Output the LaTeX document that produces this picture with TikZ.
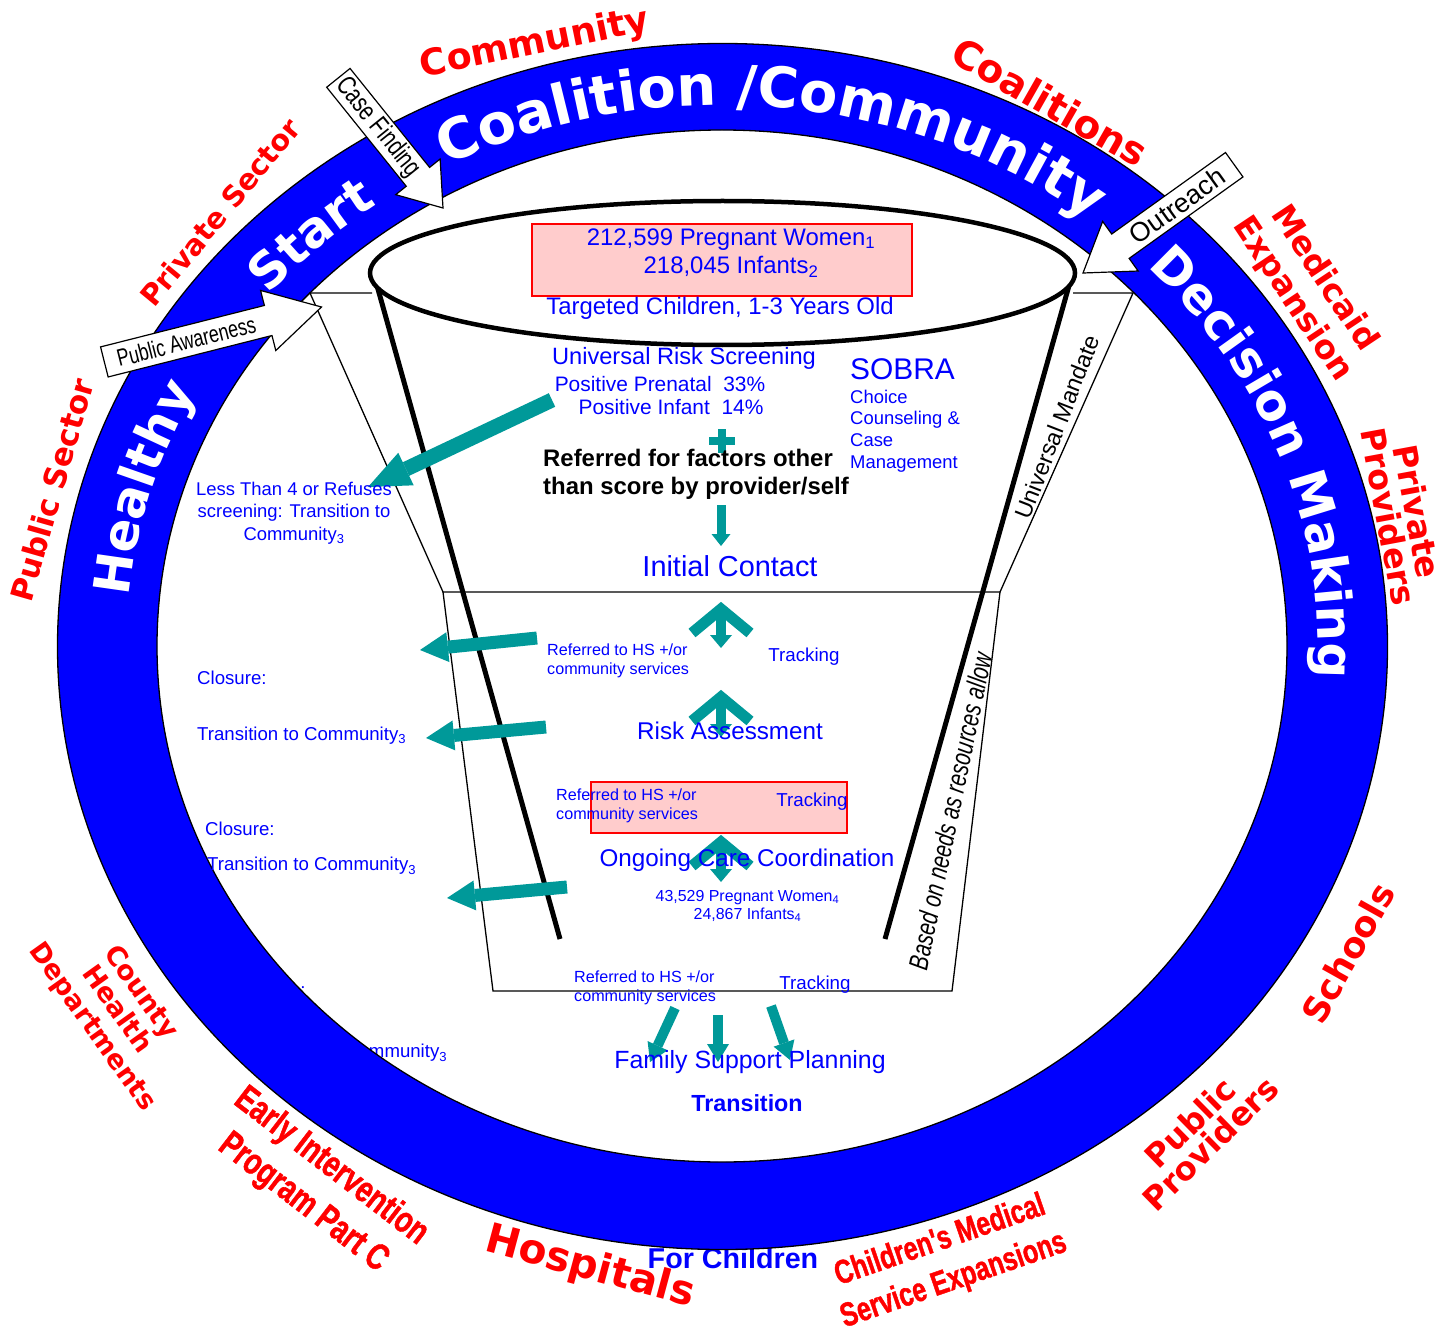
\documentclass[tikz,border=0pt]{standalone}
\usepackage{fontspec}
\setmainfont{Liberation Sans}
\newfontfamily\heavy{DejaVu Sans}
\newfontfamily\narrow[FakeStretch=0.75]{Liberation Sans}
\newfontfamily\narrowbf[FakeStretch=0.75,FakeBold=1.2]{Liberation Sans Bold}
\usetikzlibrary{arrows.meta,decorations.text}
\definecolor{ringblue}{RGB}{0,0,255}
\definecolor{tealc}{RGB}{0,153,153}
\definecolor{boxpink}{RGB}{255,204,204}
\newcommand\fz[2]{\fontsize{#1}{#2}\selectfont}
\tikzstyle{redtag}=[text=red,align=center,inner sep=0pt]
\tikzstyle{bluetxt}=[text=blue,inner sep=0pt]
\tikzstyle{tealarr}=[draw=tealc,line width=13bp,
  -{Triangle[length=28bp,width=30bp,line width=0pt]}]
\tikzstyle{smallarr}=[draw=tealc,line width=10bp,
  -{Triangle[length=18bp,width=22bp,line width=0pt]}]
\tikzstyle{chevron}=[draw=tealc,line width=11bp,line join=miter]
\tikzstyle{blockarr}=[draw=black,fill=white,line width=1.2bp,line join=miter]

\begin{document}
\begin{tikzpicture}[x=1bp,y=-1bp]
  \useasboundingbox (0,0) rectangle (1453,1334);
  \fill[white] (0,0) rectangle (1453,1334);

  % texts that the ring hides in part
  \node[bluetxt,anchor=west,font=\fz{18.7}{22}] (close3) at (236,990) {Closure:};
  \node[bluetxt,anchor=west,font=\fz{18.7}{22}] (trans3) at (238,1053) {Transition to Community\textsubscript{3}};
  \node[bluetxt,font=\bfseries\fz{28.8}{32}] (forkids) at (733,1258) {For Children};

  % the ring
  \fill[ringblue,even odd rule] (722.5,646.5) ellipse [x radius=665,y radius=603]
    (722,646) ellipse [x radius=565,y radius=516];
  \draw[line width=1.3bp] (722.5,646.5) ellipse [x radius=665,y radius=603];
  \draw[line width=1.3bp] (722,646) ellipse [x radius=565,y radius=516];

  \path[decorate,decoration={text along path,text color=white,
      text={|\heavy\bfseries\fz{50}{50}|Healthy}}]
    ([shift={(-174.8:596 and 541)}]722,646) arc[start angle=-174.8,end angle=-140,x radius=596,y radius=541];
  \path[decorate,decoration={text along path,text color=white,
      text={|\heavy\bfseries\fz{50}{50}|Start}}]
    ([shift={(-139.5:596 and 541)}]722,646) arc[start angle=-139.5,end angle=-110,x radius=596,y radius=541];
  \path[decorate,decoration={text along path,text color=white,
      text={|\heavy\bfseries\fz{56}{56}|Coalition /Community}}]
    ([shift={(-117.5:596 and 541)}]722,646) arc[start angle=-117.5,end angle=-35,x radius=596,y radius=541];
  \path[decorate,decoration={text along path,text color=white,
      text={|\heavy\bfseries\fz{50}{50}|Decision Making}}]
    ([shift={(-44.5:596 and 541)}]722,646) arc[start angle=-44.5,end angle=20,x radius=596,y radius=541];

  % partners round the ring
  \node[redtag,rotate=11.6,font=\heavy\bfseries\fz{36.5}{40}] (comm) at (535,44) {Community};
  \node[redtag,rotate=-29.6,font=\heavy\bfseries\fz{39}{42}] (coal) at (1050,102) {Coalitions};
  \node[redtag,rotate=-56.3,font=\heavy\bfseries\fz{33}{38}] (medic) at (1308,289) {Medicaid\\Expansion};
  \node[redtag,rotate=-79.5,font=\heavy\bfseries\fz{33.5}{29}] (privprov) at (1403,514) {Private\\Providers};
  \node[redtag,rotate=60.8,font=\heavy\bfseries\fz{35.5}{38}] (school) at (1348,953) {Schools};
  \node[redtag,rotate=44.5,font=\heavy\bfseries\fz{32.5}{29}] (pubprov) at (1200,1133) {Public\\Providers};
  \node[redtag,rotate=19,font=\narrowbf\fz{33.5}{42}] (cms) at (947,1261) {Children's Medical\\Service Expansions};
  \node[redtag,rotate=-15.1,font=\heavy\bfseries\fz{41}{44}] (hosp) at (590,1268) {Hospitals};
  \node[redtag,rotate=-37.5,font=\narrowbf\fz{37}{46}] (eip) at (317,1185) {Early Intervention\\Program Part C};
  \node[redtag,rotate=-54.5,font=\heavy\bfseries\fz{27}{30}] (chd) at (116,1010) {County\\Health\\Departments};
  \node[redtag,rotate=74,font=\heavy\bfseries\fz{31}{34}] (pubsec) at (52,490) {Public Sector};
  \node[redtag,rotate=50.4,font=\heavy\bfseries\fz{29}{32}] (privsec) at (220,212) {Private Sector};

  % funnel
  \draw[line width=1.3bp] (372,293) -- (310,293) -- (443,592) -- (1000,592) -- (1133,293) -- (1073,293);
  \draw[line width=1.3bp] (443,592) -- (493,991) -- (952,991) -- (1000,592);
  \draw[line width=5bp] (376,282) -- (560,939);
  \draw[line width=5bp] (1070,282) -- (885,939);
  \draw[line width=4.5bp,fill=white] (722.5,273) ellipse [x radius=352.5,y radius=72];
  \node[rotate=68.7,inner sep=0pt,font=\fz{23.5}{26}] (mandate) at (1057,427) {Universal Mandate};
  \node[rotate=78.3,inner sep=0pt,font=\narrow\itshape\fz{27.4}{30}] (needs) at (950,811) {Based on needs as resources allow};

  \draw[red,fill=boxpink,line width=1.5bp] (532,224) rectangle (912,296);
  \draw[red,fill=boxpink,line width=1.5bp] (591,782) rectangle (847,833);

  % teal arrows
  \coordinate (bigA) at (552,400);   \coordinate (bigB) at (368,487);
  \coordinate (out1a) at (537,638);  \coordinate (out1b) at (420,650);
  \coordinate (out2a) at (546,727);  \coordinate (out2b) at (426,738);
  \coordinate (out3a) at (567,887);  \coordinate (out3b) at (447,898);
  \coordinate (dnA) at (721,505);    \coordinate (dnB) at (721,546);
  \coordinate (fsp1a) at (675,1008); \coordinate (fsp1b) at (650,1062);
  \coordinate (fsp2a) at (718,1015); \coordinate (fsp2b) at (718,1062);
  \coordinate (fsp3a) at (771,1006); \coordinate (fsp3b) at (790,1060);

  \draw[tealarr,line width=15bp,-{Triangle[length=42bp,width=36bp,line width=0pt]}] (bigA) -- (bigB);
  \draw[tealarr] (out1a) -- (out1b);
  \draw[tealarr] (out2a) -- (out2b);
  \draw[tealarr] (out3a) -- (out3b);
  \draw[draw=tealc,line width=9bp,-{Triangle[length=12bp,width=19bp,line width=0pt]}] (dnA) -- (dnB);
  \draw[tealc,line width=8bp] (709,441) -- (735,441) (722,429) -- (722,453);
  \draw[smallarr] (fsp1a) -- (fsp1b);
  \draw[smallarr] (fsp2a) -- (fsp2b);
  \draw[smallarr] (fsp3a) -- (fsp3b);

  \foreach \ty/\tb in {609/648, 697/737, 842/882} {
    \draw[chevron] (692,\ty+24) -- (721,\ty) -- (750,\ty+24);
    \draw[draw=tealc,line width=10bp,-{Triangle[length=13bp,width=22bp,line width=0pt]}] (721,\ty) -- (721,\tb);
  }

  % texts in the funnel
  \node[bluetxt,align=center,font=\fz{24}{29}] (counts) at (731,253) {212,599 Pregnant Women\textsubscript{1}\\218,045 Infants\textsubscript{2}};
  \node[bluetxt,font=\fz{24}{28}] (target) at (720,308) {Targeted Children, 1-3 Years Old};
  \node[bluetxt,font=\fz{23.7}{28}] (screen) at (684,358) {Universal Risk Screening};
  \node[bluetxt,font=\fz{21}{25}] (prenatal) at (660,384) {Positive Prenatal\ \ 33\%};
  \node[bluetxt,font=\fz{21}{25}] (infant) at (671,407) {Positive Infant\ \ 14\%};
  \node[inner sep=0pt,anchor=west,align=left,font=\bfseries\fz{24}{28}] (referred) at (543,474) {Referred for factors other\\than score by provider/self};
  \node[bluetxt,anchor=west,font=\fz{30}{34}] (sobra) at (850,369) {SOBRA};
  \node[bluetxt,anchor=west,align=left,font=\fz{18.5}{21.7}] (choice) at (850,431) {Choice\\Counseling \&\\Case\\Management};
  \node[bluetxt,font=\fz{29}{33}] (initial) at (730,566) {Initial Contact};
  \node[bluetxt,align=center,font=\fz{18.5}{22.7}] (less) at (294,513) {Less Than 4 or Refuses\\screening: Transition to\\Community\textsubscript{3}};
  \node[bluetxt,anchor=west,font=\fz{18.7}{22}] (close1) at (197,678) {Closure:};
  \node[bluetxt,anchor=west,font=\fz{18.7}{22}] (trans1) at (197,736) {Transition to Community\textsubscript{3}};
  \node[bluetxt,anchor=west,font=\fz{18.7}{22}] (close2) at (205,829) {Closure:};
  \node[bluetxt,anchor=west,font=\fz{18.7}{22}] (trans2) at (207,866) {Transition to Community\textsubscript{3}};
  \node[bluetxt,anchor=west,align=left,font=\fz{16.2}{19.5}] (ref1) at (547,661) {Referred to HS +/or\\community services};
  \node[bluetxt,font=\fz{18.8}{22}] (track1) at (804,657) {Tracking};
  \node[bluetxt,font=\fz{24.3}{28}] (risk) at (730,731) {Risk Assessment};
  \node[bluetxt,anchor=west,align=left,font=\fz{16.2}{19.5}] (ref2) at (556,806) {Referred to HS +/or\\community services};
  \node[bluetxt,font=\fz{18.8}{22}] (track2) at (812,802) {Tracking};
  \node[bluetxt,font=\fz{24.3}{28}] (ongoing) at (747,860) {Ongoing Care Coordination};
  \node[bluetxt,align=center,font=\fz{16}{18}] (enrolled) at (747.5,906) {43,529 Pregnant Women\textsubscript{4}\\24,867 Infants\textsubscript{4}};
  \node[bluetxt,anchor=west,align=left,font=\fz{16.2}{19.5}] (ref3) at (574,988) {Referred to HS +/or\\community services};
  \node[bluetxt,font=\fz{18.8}{22}] (track3) at (815,985) {Tracking};
  \node[bluetxt,font=\fz{25}{29}] (family) at (750,1062) {Family Support Planning};
  \node[bluetxt,font=\bfseries\fz{23.4}{27}] (transition) at (747,1103) {Transition};

  % block arrows on the ring
  \begin{scope}[shift={(443,208)},rotate=-51.2]
    \draw[blockarr] (0,0) -- (-40,28.5) -- (-40,15) -- (-167,15) -- (-167,-15) -- (-40,-15) -- (-40,-28.5) -- cycle;
    \node[rotate=-51.2,inner sep=0pt,font=\narrow\fz{27}{30}] (casefind) at (-103.5,0) {Case Finding};
  \end{scope}
  \begin{scope}[shift={(321.5,307)},rotate=14.2]
    \draw[blockarr] (0,0) -- (-55,31) -- (-55,15.5) -- (-224,15.5) -- (-224,-15.5) -- (-55,-15.5) -- (-55,-31) -- cycle;
    \node[rotate=14.2,inner sep=0pt,font=\narrow\fz{24}{27}] (awareness) at (-139.5,0) {Public Awareness};
  \end{scope}
  \begin{scope}[shift={(1083,273)},rotate=215.6]
    \draw[blockarr] (0,0) -- (-46,30.5) -- (-46,15) -- (-186,15) -- (-186,-15) -- (-46,-15) -- (-46,-30.5) -- cycle;
    \node[rotate=35.6,inner sep=0pt,font=\fz{27}{30}] (outreach) at (-116,0) {Outreach};
  \end{scope}
\end{tikzpicture}
\end{document}
